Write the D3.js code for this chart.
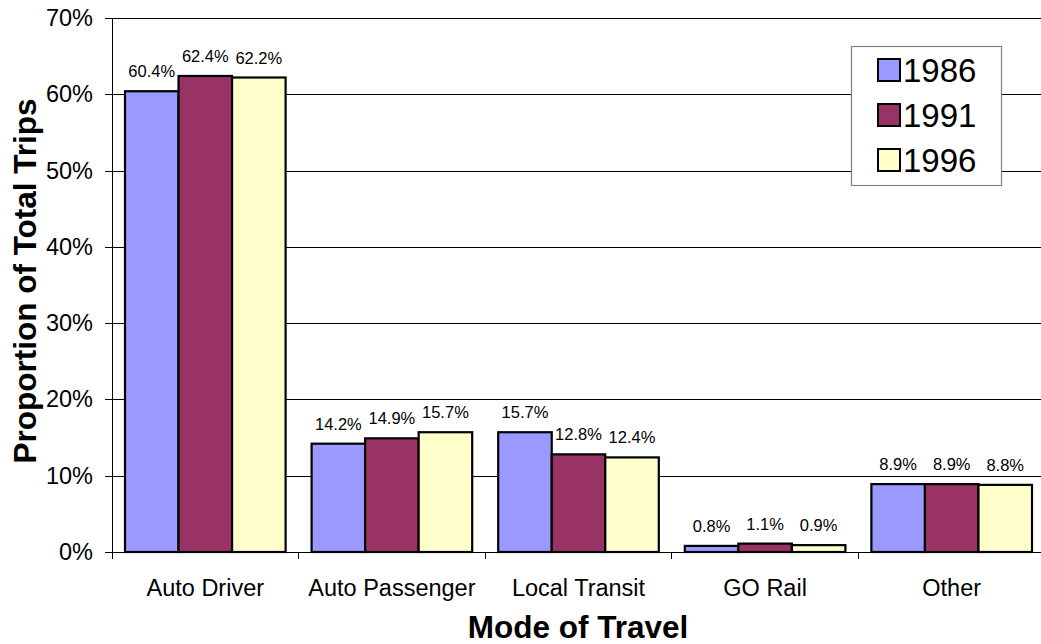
<!DOCTYPE html>
<html>
<head>
<meta charset="utf-8">
<script src="https://cdn.jsdelivr.net/npm/d3@7"></script>
<style>
  html, body { margin: 0; padding: 0; background: #ffffff; }
  svg { display: block; font-family: "Liberation Sans", Arial, sans-serif; }
</style>
</head>
<body>
<svg id="chart" width="1041" height="644"></svg>
<script>
const categories = ["Auto Driver", "Auto Passenger", "Local Transit", "GO Rail", "Other"];
const years = ["1986", "1991", "1996"];
const values1986 = [60.4, 14.2, 15.7, 0.8, 8.9];
const values1991 = [62.4, 14.9, 12.8, 1.1, 8.9];
const values1996 = [62.2, 15.7, 12.4, 0.9, 8.8];
const yTicks = [0, 10, 20, 30, 40, 50, 60, 70];
const colors = ["#9999FF", "#993366", "#FFFFCC"];

(function () {
const series = [values1986, values1991, values1996];
const svg = d3.select("#chart");

const mLeft = 112, mRight = 1045, mTop = 18, mBottom = 552;

const x0 = d3.scaleBand().domain(categories).range([mLeft, mRight]).padding(0);
const gap = 13;
const x1 = d3.scaleBand().domain(years).range([gap, x0.bandwidth() - gap]).padding(0);
const y = d3.scaleLinear().domain([0, 70]).range([mBottom, mTop]);

// gridlines
svg.append("g")
  .selectAll("line")
  .data(yTicks.filter(t => t > 0))
  .join("line")
  .attr("x1", mLeft).attr("x2", mRight)
  .attr("y1", d => Math.round(y(d)) + 0.5).attr("y2", d => Math.round(y(d)) + 0.5)
  .attr("stroke", "#000").attr("stroke-width", 1);

// y axis
const yAxis = d3.axisLeft(y).tickValues(yTicks).tickFormat(d => d + "%").tickSize(7).tickPadding(12);
const gy = svg.append("g").attr("transform", `translate(${mLeft},0)`).call(yAxis);
gy.select(".domain").attr("stroke", "#000").attr("shape-rendering", "crispEdges");
gy.selectAll(".tick line").attr("stroke", "#000").attr("shape-rendering", "crispEdges");
gy.selectAll("text").attr("font-size", 23.5).attr("fill", "#000")
  .attr("font-family", "Liberation Sans, Arial, sans-serif");

// bars
const groups = svg.append("g").selectAll("g")
  .data(categories)
  .join("g")
  .attr("transform", d => `translate(${x0(d)},0)`);

groups.selectAll("rect")
  .data((c, i) => years.map((yr, j) => ({ yr, j, v: series[j][i] })))
  .join("rect")
  .attr("x", d => x1(d.yr))
  .attr("y", d => y(d.v))
  .attr("width", x1.bandwidth())
  .attr("height", d => y(0) - y(d.v))
  .attr("fill", d => colors[d.j])
  .attr("stroke", "#000")
  .attr("stroke-width", 2.2);

groups.selectAll("text")
  .data((c, i) => years.map((yr, j) => ({ yr, j, v: series[j][i] })))
  .join("text")
  .attr("x", d => x1(d.yr) + x1.bandwidth() / 2)
  .attr("y", d => y(d.v) - 14)
  .attr("text-anchor", "middle")
  .attr("font-size", 16.5)
  .attr("fill", "#000")
  .text(d => d.v.toFixed(1) + "%");

// x axis
const xAxis = d3.axisBottom(x0).tickSize(0).tickPadding(0).tickFormat("");
const gx = svg.append("g").attr("transform", `translate(0,${mBottom})`).call(xAxis);
gx.select(".domain").attr("stroke", "#000").attr("shape-rendering", "crispEdges");
// category boundary ticks
svg.append("g").selectAll("line")
  .data(categories.slice(1))
  .join("line")
  .attr("x1", d => x0(d)).attr("x2", d => x0(d))
  .attr("y1", mBottom).attr("y2", mBottom + 7)
  .attr("stroke", "#000").attr("shape-rendering", "crispEdges");
svg.append("line")
  .attr("x1", mLeft).attr("x2", mLeft).attr("y1", mBottom).attr("y2", mBottom + 7)
  .attr("stroke", "#000").attr("shape-rendering", "crispEdges");

svg.append("g").selectAll("text")
  .data(categories)
  .join("text")
  .attr("x", d => x0(d) + x0.bandwidth() / 2)
  .attr("y", 596)
  .attr("text-anchor", "middle")
  .attr("font-size", 23.5)
  .attr("fill", "#000")
  .text(d => d);

// axis titles
svg.append("text")
  .attr("x", 578).attr("y", 638)
  .attr("text-anchor", "middle")
  .attr("font-size", 31.5).attr("font-weight", "bold")
  .text("Mode of Travel");

svg.append("text")
  .attr("transform", "translate(36,281) rotate(-90)")
  .attr("text-anchor", "middle")
  .attr("font-size", 31.5).attr("font-weight", "bold")
  .text("Proportion of Total Trips");

// legend
const lg = svg.append("g");
lg.append("rect")
  .attr("x", 851.5).attr("y", 46.5).attr("width", 150).attr("height", 139)
  .attr("fill", "#fff").attr("stroke", "#808080").attr("stroke-width", 1.2);
const items = lg.selectAll("g.item").data(years).join("g").attr("class", "item")
  .attr("transform", (d, i) => `translate(0,${i * 45})`);
items.append("rect")
  .attr("x", 878).attr("y", 59).attr("width", 22).attr("height", 22)
  .attr("fill", (d, i) => colors[i]).attr("stroke", "#000").attr("stroke-width", 2);
items.append("text")
  .attr("x", 903).attr("y", 82)
  .attr("font-size", 33).attr("fill", "#000")
  .text(d => d);
})();
</script>
</body>
</html>
